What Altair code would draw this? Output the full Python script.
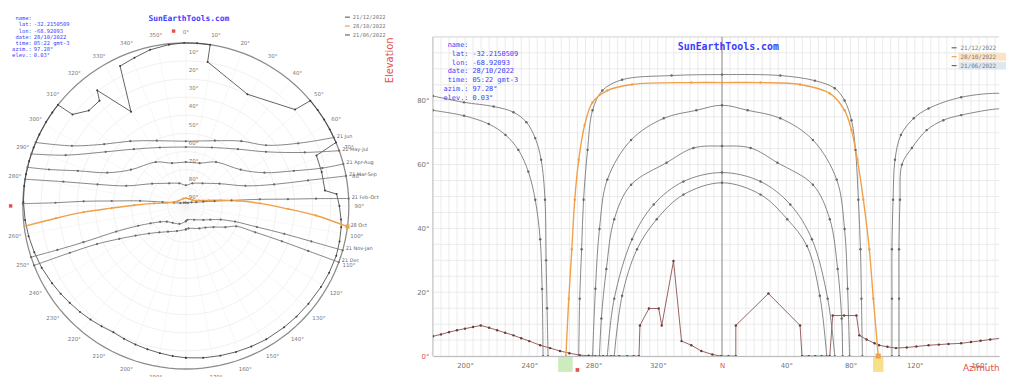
import altair as alt
import pandas as pd

FONT = "DejaVu Sans"
MONO = "DejaVu Sans Mono"
GRAY = "#686868"
ORANGE = "#f0a048"
BLUE = "#3c3cff"
RED = "#e25050"

# ---------------- values ----------------
# sun paths: azimuth in degrees (0 = north, east positive, west negative), elevation in degrees
novjan_az = [105.8, 105.8, 105.8, 106.5, 107.7, 111.4, 119.4, 128.6, 148.9, 173.5, 180.0,
             -180.0, -160.6, -142.2, -129.8, -121.8, -116.3, -112.6, -110.2, -109.5, -108.9, -108.3]
novjan_el = [0, 18, 33.5, 49, 61.5, 69.3, 74.5, 77.6, 81.1, 82.3, 81.5,
             81.5, 79.5, 78.2, 76.4, 73.3, 68.3, 61.5, 49, 30, 15, 0]
dec_az = [110.2, 110.2, 110.2, 110.8, 112.0, 118.2, 127.4, 137.8, 148.9, 173.5, 180.0,
          -180.0, -160.6, -145.2, -134.8, -126.8, -120.6, -116.3, -113.2, -112.0, -111.4]
dec_el = [0, 18, 33.5, 49, 60, 65.2, 70.8, 73.9, 75.5, 77.5, 77,
          77, 75.3, 72.7, 69.3, 64.6, 57.8, 49, 36.6, 21, 0]
febo_az = [-89.2, -88.6, -87.4, -86.2, -83.7, -80.6, -74.5, -62.2, -31.4, 0, 36.3, 57.8, 70.2,
           76.3, 80.6, 83.1, 84.9, 86.2, 86.8, 87.4]
febo_el = [0, 18, 33.5, 49, 64.6, 77, 83.2, 86.6, 87.9, 88.2, 87.9, 86.3, 83.9,
           80.1, 73.9, 64.6, 49, 33.5, 18, 0]
mar_az = [-80.6, -78.8, -76.3, -71.4, -56.6, -36.3, -16, 0, 16, 36.3, 56.6, 71.4, 76.3, 78.2, 79.4]
mar_el = [0, 21.1, 39.8, 55.3, 67.7, 74.5, 77, 78.6, 77, 74.5, 67.7, 55.3, 39.8, 21.1, 0]
apr_az = [-76.3, -75.1, -72, -67.1, -56.6, -34.5, -17.8, 0, 17.8, 34.5, 56.6, 67.1, 72, 74.5, 75.1]
apr_el = [0, 11.8, 27.3, 42.9, 53.7, 60.6, 65.2, 65.8, 65.2, 60.6, 53.7, 42.9, 27.3, 11.8, 0]
may_az = [-71.4, -67.1, -56, -42.5, -24, 0, 24, 42.5, 56, 65.8, 70.2]
may_el = [0, 18, 36.6, 47.5, 54.7, 57.5, 54.7, 47.5, 36.6, 18, 0]
jun_az = [-67.1, -62.2, -52.9, -40.6, -24, 0, 24, 40.6, 52.9, 60.9, 65.2]
jun_el = [0, 18.9, 33.5, 42.9, 50.6, 54.3, 50.6, 42.9, 34.5, 18.9, 0]
today_az = [-97.2, -95.4, -93.5, -91.7, -89.2, -85.5, -80.6, -71.4, -56, -19.1, 0, 24, 48.6,
            67.1, 76.3, 80.6, 84.3, 88, 91.7, 94.2, 97.3]
today_el = [0, 18, 33.5, 49, 61.5, 72.4, 79.5, 83.2, 85.1, 85.7, 85.7, 85.7, 85.1,
            82.3, 77, 70.8, 61.5, 49, 33.5, 18, 0]

path_names = ["21/11 - 21/01", "21/12", "21/02 - 21/10", "21/03 - 21/09",
              "21/04 - 21/08", "21/05 - 21/07", "21/06", "28/10/2022"]
path_kinds = ["gray", "gray", "gray", "gray", "gray", "gray", "gray", "orange"]
path_az = [novjan_az, dec_az, febo_az, mar_az, apr_az, may_az, jun_az, today_az]
path_el = [novjan_el, dec_el, febo_el, mar_el, apr_el, may_el, jun_el, today_el]

# horizon profile (obstacles), dotted samples read along the drawn profile
horizon_az = [-180, -175, -170, -165, -160, -155, -150.2, -145, -140, -135, -129.8, -125, -120,
              -113.2, -107, -100.9, -95, -88.6, -83, -78.8, -74, -69, -64, -59, -55, -51.7,
              -51.1, -45.5, -39.4, -37.5, -30.2, -25.2, -19.1, -12.9, -6, -0.6, 4, 8.6, 8.6,
              28.9, 48.6, 49.8, 54, 58, 62, 67.1, 68.9, 76, 83.7, 85.5, 90, 95, 97.8, 103,
              108.3, 115, 121, 128.6, 135, 141, 148.9, 155, 161, 167, 173.5, 180]
horizon_el = [6.2, 6.8, 7.5, 8.1, 8.6, 9.1, 9.6, 8.9, 8.1, 7.3, 6.5, 5.6, 4.7,
              3.4, 2.5, 1.6, 0.9, 0.3, 0.1, 0, 0, 0, 0, 0, 0, 0,
              9.6, 14.9, 14.9, 9.6, 29.8, 4.7, 3.4, 1.6, 0.5, 0, 0, 0, 9.6,
              19.6, 9.6, 0, 0, 0, 0, 0, 12.7, 12.7, 12.7, 6.5, 5.2, 4.0, 3.4, 2.9,
              2.5, 2.7, 3.0, 3.4, 3.6, 3.8, 4.0, 4.4, 4.8, 5.2, 5.6, 6.2]

sun_now_az = [97.28]
sun_now_el = [0.03]

legend_labels = ["21/12/2022", "28/10/2022", "21/06/2022"]
legend_colors = [GRAY, ORANGE, GRAY]
info_keys = ["name:", "lat:", "lon:", "date:", "time:", "azim.:", "elev.:"]
info_vals = ["", "-32.2150509", "-68.92093", "28/10/2022", "05:22 gmt-3", "97.28°", "0.03°"]
site_name = "SunEarthTools.com"
ann_labels = ["21 Nov-Jan", "21 Dec", "21 Feb-Oct", "21 Mar-Sep", "21 Apr-Aug",
              "21 May-Jul", "21 Jun", "28 Oct"]

# ---------------- tables ----------------
rows = []
for name, kind, azs, els in zip(path_names, path_kinds, path_az, path_el):
    seg = 0
    for i, (a, e) in enumerate(zip(azs, els)):
        if i > 0 and abs(a - azs[i - 1]) > 180:
            seg += 1
        rows.append({"name": name, "kind": kind, "seg": f"{name}|{seg}", "i": i, "az": a, "el": e})
paths_df = pd.DataFrame(rows)

ann_rows = []
for name, lab, azs, els in zip(path_names, ann_labels, path_az, path_el):
    k = max(range(len(azs)), key=lambda j: azs[j] if els[j] == 0 and azs[j] < 150 else -999)
    ann_rows.append({"name": name, "t": lab, "az": azs[k], "el": els[k]})
ann_df = pd.DataFrame(ann_rows)

hor_df = pd.DataFrame({"az": horizon_az, "el": horizon_el, "i": list(range(len(horizon_az)))})
now_df = pd.DataFrame({"az": sun_now_az, "el": sun_now_el})

# structural grid for the polar view
circ_rows = []
for e in range(0, 90, 10):
    for k, ang in enumerate(range(0, 361, 3)):
        circ_rows.append({"el": e, "az": ang, "i": k})
circ_df = pd.DataFrame(circ_rows)
rad_df = pd.DataFrame({"az": list(range(0, 360, 10))})
azl_df = pd.DataFrame({"az": [a for a in range(0, 360, 10) if a != 270],
                       "t": [f"{a}°" for a in range(0, 360, 10) if a != 270]})
ell_df = pd.DataFrame({"az": [0] * 9, "el": list(range(10, 91, 10)),
                       "t": [f"{e}°" for e in range(10, 91, 10)]})

# ---------------- polar panel ----------------
PX = alt.Scale(domain=[-1.085, 1.158], nice=False, zero=False)
PY = alt.Scale(domain=[-1.036, 1.2], nice=False, zero=False)
PXE = alt.X("px:Q", scale=PX, axis=None)
PYE = alt.Y("py:Q", scale=PY, axis=None)


def polar(ch, r="(90 - datum.el) / 90"):
    return ch.transform_calculate(rr=r).transform_calculate(
        px="datum.rr * sin(datum.az * PI / 180)",
        py="datum.rr * cos(datum.az * PI / 180)")


kind_color = alt.Color("kind:N", scale=alt.Scale(domain=["gray", "orange"], range=[GRAY, ORANGE]),
                       legend=None)
kind_width = alt.condition(alt.datum.kind == "orange", alt.value(1.4), alt.value(0.8))

p_grid = polar(alt.Chart(circ_df[circ_df.el > 0]).mark_line(strokeWidth=0.6, color="#e8e8e8")).encode(
    x=PXE, y=PYE, detail="el:N", order="i:Q")
p_rad = alt.Chart(rad_df).mark_rule(strokeWidth=0.5, color="#eeeeee").transform_calculate(
    px="sin(datum.az * PI / 180)", py="cos(datum.az * PI / 180)", z="0").encode(
    x=alt.X("z:Q", scale=PX, axis=None), y=alt.Y("z:Q", scale=PY, axis=None), x2="px:Q", y2="py:Q")
p_frame = polar(alt.Chart(circ_df[circ_df.el == 0]).mark_line(strokeWidth=1.3, color="#8c8c8c")).encode(
    x=PXE, y=PYE, order="i:Q")
p_azl = polar(alt.Chart(azl_df).mark_text(fontSize=5.5, color="#777", font=FONT), r="1.065").encode(
    x=PXE, y=PYE, text="t:N")
p_ell = polar(alt.Chart(ell_df).mark_text(fontSize=5.5, color="#777", font=FONT, align="left",
                                           dx=3, dy=-9)).encode(x=PXE, y=PYE, text="t:N")
p_hor = polar(alt.Chart(hor_df).mark_line(strokeWidth=0.8, color="#3a3a3a")).encode(
    x=PXE, y=PYE, order="i:Q")
p_hord = polar(alt.Chart(hor_df).mark_circle(size=4, color="#3a3a3a", opacity=1)).encode(x=PXE, y=PYE)
p_paths = polar(alt.Chart(paths_df).mark_line(interpolate="catmull-rom")).encode(
    x=PXE, y=PYE, detail="name:N", order="i:Q", color=kind_color, strokeWidth=kind_width)
p_dots = polar(alt.Chart(paths_df).mark_circle(size=5, opacity=1)).encode(x=PXE, y=PYE, color=kind_color)
p_ann = polar(alt.Chart(ann_df).mark_text(fontSize=5, color="#666", font=FONT, align="left", dx=3,
                                           dy=-2)).encode(x=PXE, y=PYE, text="t:N")
p_now = polar(alt.Chart(now_df).mark_square(size=18, color=ORANGE, opacity=1)).encode(x=PXE, y=PYE)
p_red = polar(alt.Chart(pd.DataFrame({"az": [-90, -4]})).mark_square(size=12, color=RED, opacity=1),
              r="1.075").encode(x=PXE, y=PYE)
p_title = alt.Chart(pd.DataFrame({"t": [site_name]})).mark_text(
    font=MONO, fontSize=8, fontWeight="bold", color=BLUE).encode(
    text="t:N", x=alt.value(182), y=alt.value(9))
p_keys = alt.Chart(pd.DataFrame({"t": ["\n".join(info_keys)]})).mark_text(
    font=MONO, fontSize=5.5, color=BLUE, align="right", baseline="top", lineBreak="\n",
    lineHeight=6.3).encode(text="t:N", x=alt.value(23), y=alt.value(6))
p_vals = alt.Chart(pd.DataFrame({"t": ["\n".join(info_vals)]})).mark_text(
    font=MONO, fontSize=5.5, color=BLUE, align="left", baseline="top", lineBreak="\n",
    lineHeight=6.3).encode(text="t:N", x=alt.value(25), y=alt.value(6))

p_leg = []
for j, (lab, col) in enumerate(zip(legend_labels, legend_colors)):
    d = pd.DataFrame({"t": [lab]})
    p_leg.append(alt.Chart(d).mark_rule(color=col, strokeWidth=1.2).encode(
        x=alt.value(340), x2=alt.value(345), y=alt.value(7 + 9 * j)))
    p_leg.append(alt.Chart(d).mark_text(font=MONO, fontSize=5.5, color="#777", align="left").encode(
        text="t:N", x=alt.value(348), y=alt.value(7 + 9 * j)))

left = alt.layer(p_grid, p_rad, p_frame, p_azl, p_ell, p_hor, p_hord, p_paths, p_dots, p_ann,
                 p_now, p_red, p_title, p_keys, p_vals, *p_leg).properties(width=370, height=369)

# ---------------- cartesian panel ----------------
XS = alt.Scale(domain=[-180, 172.5], nice=False, zero=False)
YS = alt.Scale(domain=[0, 108.36], nice=False, zero=False)

vgrid_df = pd.DataFrame({"g": list(range(-180, 171, 5))})
hgrid_df = pd.DataFrame({"h": list(range(0, 101, 5))})

x_axis = alt.Axis(
    values=list(range(-160, 161, 20)),
    labelExpr="datum.value == 0 ? 'N' : ((datum.value < 0 ? datum.value + 360 : datum.value) + '°')",
    grid=False, ticks=False, domain=True, domainColor="#999", labelFontSize=7,
    labelColor={"condition": {"test": "datum.value == 0", "value": RED}, "value": "#777"},
    labelPadding=6, labelFont=FONT,
    title="Azimuth", titleColor=RED, titleFontSize=9, titleFontWeight="normal", titleFont=FONT,
    titleAnchor="end", titleAlign="right", titleBaseline="top", titleX=573, titleY=8)
y_axis = alt.Axis(
    values=list(range(0, 91, 10)), labelExpr="datum.value + '°'",
    grid=False, ticks=False, domain=False, labelFontSize=7, labelPadding=4, labelFont=FONT,
    labelColor={"condition": {"test": "datum.value == 0 || datum.value == 90", "value": RED},
                "value": "#777"},
    title="Elevation", titleColor=RED, titleFontSize=10, titleFontWeight="normal", titleFont=FONT,
    titleAngle=-90, titleAlign="right", titleBaseline="middle", titleX=-44, titleY=27)

r_hgrid = alt.Chart(hgrid_df).mark_rule(strokeWidth=0.7).encode(
    y=alt.Y("h:Q", scale=YS, axis=y_axis), x=alt.datum(-180), x2=alt.datum(172.5),
    color=alt.condition(alt.datum.h == 100, alt.value("#bdbdbd"), alt.value("#e2e2e2")))
r_vgrid = alt.Chart(vgrid_df).mark_rule(strokeWidth=0.7, color="#e2e2e2").encode(
    x=alt.X("g:Q", scale=XS, axis=x_axis), y=alt.datum(0), y2=alt.datum(100))
r_frame = alt.Chart(pd.DataFrame({"g": [-180]})).mark_rule(strokeWidth=1, color="#bdbdbd").encode(
    x=alt.X("g:Q", scale=XS), y=alt.datum(0), y2=alt.datum(100))
r_north = alt.Chart(pd.DataFrame({"g": [0]})).mark_rule(strokeWidth=1, color="#8c8c8c").encode(
    x=alt.X("g:Q", scale=XS), y=alt.datum(0), y2=alt.datum(100))

RXE = alt.X("az:Q", scale=XS)
RYE = alt.Y("el:Q", scale=YS)
r_hor = alt.Chart(hor_df).mark_line(strokeWidth=0.9, color="#8a5050", clip=True).encode(
    x=RXE, y=RYE, order="i:Q")
r_hord = alt.Chart(hor_df).mark_circle(size=6, color="#6a3a3a", opacity=1, clip=True).encode(x=RXE, y=RYE)
r_paths = alt.Chart(paths_df).mark_line(clip=True, interpolate="catmull-rom").encode(
    x=RXE, y=RYE, detail="seg:N", order="i:Q", color=kind_color, strokeWidth=kind_width)
r_dots = alt.Chart(paths_df).mark_circle(size=6, opacity=1, clip=True).encode(x=RXE, y=RYE, color=kind_color)
r_now = alt.Chart(now_df).mark_square(size=26, color=ORANGE, opacity=1).encode(x=RXE, y=RYE)

r_hl = alt.Chart(pd.DataFrame({"a": [94.0, -102.0], "b": [100.5, -93.0], "c": ["#f5d35a", "#b7e2a2"]})).mark_rect(
    opacity=0.7).encode(x=alt.X("a:Q", scale=XS), x2="b:Q", y=alt.value(351), y2=alt.value(366),
                        color=alt.Color("c:N", scale=None))
r_red = alt.Chart(pd.DataFrame({"a": [-90]})).mark_square(size=14, color=RED, opacity=1).encode(
    x=alt.X("a:Q", scale=XS), y=alt.value(364))

r_title = alt.Chart(pd.DataFrame({"t": [site_name]})).mark_text(
    font=MONO, fontSize=10, fontWeight="bold", color=BLUE).encode(
    text="t:N", x=alt.value(299), y=alt.value(37))
r_keys = alt.Chart(pd.DataFrame({"t": ["\n".join(info_keys)]})).mark_text(
    font=MONO, fontSize=7, color=BLUE, align="right", baseline="top", lineBreak="\n",
    lineHeight=9).encode(text="t:N", x=alt.value(36), y=alt.value(31))
r_vals = alt.Chart(pd.DataFrame({"t": ["\n".join(info_vals)]})).mark_text(
    font=MONO, fontSize=7, color=BLUE, align="left", baseline="top", lineBreak="\n",
    lineHeight=9).encode(text="t:N", x=alt.value(40), y=alt.value(31))

r_leg = []
leg_bg = [None, "#fde3c6", "#dfe7f1"]
for j, (lab, col) in enumerate(zip(legend_labels, legend_colors)):
    d = pd.DataFrame({"t": [lab]})
    yy = 38 + 9 * j
    if leg_bg[j]:
        r_leg.append(alt.Chart(d).mark_rect(color=leg_bg[j]).encode(
            x=alt.value(532), x2=alt.value(580), y=alt.value(yy - 4), y2=alt.value(yy + 4)))
    r_leg.append(alt.Chart(d).mark_rule(color=col, strokeWidth=1.2).encode(
        x=alt.value(525), x2=alt.value(530), y=alt.value(yy)))
    r_leg.append(alt.Chart(d).mark_text(font=MONO, fontSize=6, color="#777", align="left").encode(
        text="t:N", x=alt.value(534), y=alt.value(yy)))

right = alt.layer(r_hgrid, r_vgrid, r_frame, r_north, r_hl, r_hor, r_hord, r_paths, r_dots, r_now,
                  r_red, r_title, r_keys, r_vals, *r_leg).properties(width=573, height=350)

chart = alt.hconcat(left, right, spacing=59, bounds="flush").properties(
    padding=0
).configure_view(stroke=None).configure_axis(labelFont=FONT, titleFont=FONT)

chart.save("out.html", embed_options={"renderer": "svg", "actions": False})
